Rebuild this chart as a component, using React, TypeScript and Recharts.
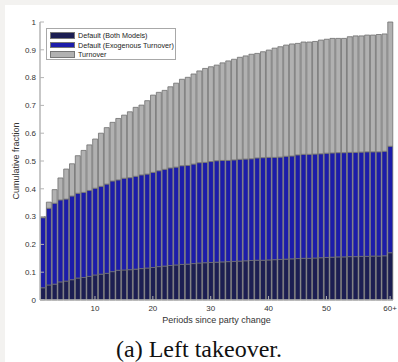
import React from 'react';
import { BarChart, Bar, XAxis, YAxis } from 'recharts';

// periods since party change: 1..60, then the pooled "60+" bucket
const periods = Array.from({ length: 60 }, (_, i) => String(i + 1)).concat('60+');

// cumulative fractions (top of each stacked segment)
const bothTop = [
  0.044, 0.054, 0.057, 0.065, 0.068, 0.073, 0.079, 0.081, 0.085, 0.090,
  0.093, 0.096, 0.102, 0.107, 0.108, 0.109, 0.111, 0.113, 0.115, 0.117,
  0.120, 0.122, 0.124, 0.126, 0.128, 0.129, 0.131, 0.133, 0.134, 0.135,
  0.136, 0.137, 0.138, 0.139, 0.140, 0.141, 0.142, 0.143, 0.143, 0.144,
  0.145, 0.146, 0.147, 0.148, 0.149, 0.150, 0.150, 0.151, 0.152, 0.153,
  0.154, 0.155, 0.155, 0.156, 0.156, 0.157, 0.157, 0.158, 0.158, 0.159,
  0.170,
];
const exoTop = [
  0.296, 0.330, 0.348, 0.360, 0.363, 0.374, 0.384, 0.387, 0.394, 0.402,
  0.409, 0.417, 0.428, 0.432, 0.438, 0.440, 0.445, 0.450, 0.453, 0.459,
  0.465, 0.470, 0.475, 0.478, 0.483, 0.484, 0.489, 0.494, 0.495, 0.498,
  0.501, 0.502, 0.502, 0.504, 0.506, 0.507, 0.508, 0.511, 0.512, 0.513,
  0.513, 0.514, 0.517, 0.518, 0.522, 0.524, 0.524, 0.525, 0.526, 0.528,
  0.529, 0.530, 0.530, 0.531, 0.531, 0.532, 0.533, 0.533, 0.533, 0.535,
  0.553,
];
const turnoverTop = [
  0.300, 0.352, 0.397, 0.439, 0.471, 0.490, 0.519, 0.538, 0.558, 0.579,
  0.600, 0.620, 0.639, 0.653, 0.665, 0.677, 0.693, 0.701, 0.717, 0.737,
  0.747, 0.754, 0.767, 0.780, 0.794, 0.801, 0.813, 0.824, 0.833, 0.839,
  0.845, 0.853, 0.860, 0.866, 0.873, 0.878, 0.884, 0.887, 0.893, 0.899,
  0.906, 0.911, 0.917, 0.921, 0.923, 0.928, 0.928, 0.930, 0.935, 0.938,
  0.941, 0.941, 0.941, 0.947, 0.950, 0.950, 0.953, 0.953, 0.955, 0.957,
  1.000,
];

const xTicks = ['10', '20', '30', '40', '50', '60+'];
const yTicks = [0, 0.1, 0.2, 0.3, 0.4, 0.5, 0.6, 0.7, 0.8, 0.9, 1];

const series = [
  { key: 'both', label: 'Default (Both Models)', color: '#1c1e52' },
  { key: 'exo', label: 'Default (Exogenous Turnover)', color: '#1c1caa' },
  { key: 'turnover', label: 'Turnover', color: '#b1b1b1' },
];

// stacked segments = differences between the cumulative tops
const data = periods.map((p, i) => ({
  period: p,
  both: bothTop[i],
  exo: exoTop[i] - bothTop[i],
  turnover: turnoverTop[i] - exoTop[i],
}));

const FONT = '"Liberation Sans", Arial, sans-serif';
const AXIS = '#b4b4b4';
const TICK_TEXT = { fontSize: 8, fill: '#333', fontFamily: FONT };

function Empty() {
  return <g />;
}

export default function App() {
  return (
    <div style={{ position: 'fixed', left: 0, top: 0, width: 398, height: 362, background: '#f3f2f0', overflow: 'hidden' }}>
      <div style={{ position: 'absolute', left: 5, top: 5, right: 0, bottom: 0, background: '#fff' }} />

      <div style={{ position: 'absolute', left: 0, top: 0 }}>
        <BarChart
          width={398}
          height={335}
          data={data}
          margin={{ top: 22, right: 5, left: 10, bottom: 5 }}
          barCategoryGap="10%"
        >
          <XAxis
            dataKey="period"
            ticks={xTicks}
            interval={0}
            height={30}
            tickSize={-4}
            tickMargin={9}
            tick={TICK_TEXT}
            stroke={AXIS}
            axisLine={{ stroke: AXIS, strokeWidth: 1.5 }}
            label={{ value: 'Periods since party change', position: 'insideBottom', offset: 7, style: { fontSize: 9, fill: '#333', fontFamily: FONT } }}
          />
          <XAxis
            xAxisId="top"
            orientation="top"
            dataKey="period"
            ticks={xTicks}
            interval={0}
            height={0}
            tickSize={-4}
            tick={<Empty />}
            stroke={AXIS}
            axisLine={{ stroke: AXIS, strokeWidth: 1.5 }}
          />
          <YAxis
            domain={[0, 1]}
            ticks={yTicks}
            width={30}
            tickSize={-4}
            tickMargin={8}
            tick={TICK_TEXT}
            stroke={AXIS}
            axisLine={{ stroke: AXIS, strokeWidth: 1.5 }}
            label={{ value: 'Cumulative fraction', angle: -90, position: 'insideLeft', offset: 6, style: { textAnchor: 'middle', fontSize: 9, fill: '#333', fontFamily: FONT } }}
          />
          <YAxis
            yAxisId="right"
            orientation="right"
            domain={[0, 1]}
            ticks={yTicks}
            width={0}
            tickSize={-4}
            tick={<Empty />}
            stroke={AXIS}
            axisLine={{ stroke: AXIS, strokeWidth: 1.5 }}
          />
          {series.map((s) => (
            <Bar
              key={s.key}
              dataKey={s.key}
              stackId="a"
              fill={s.color}
              stroke="#6f6f6f"
              strokeWidth={0.8}
              isAnimationActive={false}
            />
          ))}
        </BarChart>
      </div>

      {/* legend */}
      <div
        style={{
          position: 'absolute',
          left: 46,
          top: 28,
          width: 130,
          height: 32,
          boxSizing: 'border-box',
          border: '1px solid #a8a8a8',
          background: '#fff',
          padding: '2px 0 0 3px',
          fontFamily: FONT,
          fontSize: 7.2,
          color: '#222',
          whiteSpace: 'nowrap',
        }}
      >
        {series.map((s) => (
          <div key={s.key} style={{ display: 'flex', alignItems: 'center', height: 9.4 }}>
            <div style={{ width: 25, height: 6.5, background: s.color, border: '0.8px solid #777', marginRight: 3, boxSizing: 'border-box', flex: 'none' }} />
            <span style={{ lineHeight: '9px' }}>{s.label}</span>
          </div>
        ))}
      </div>

      <div
        style={{
          position: 'absolute',
          left: 0,
          width: 398,
          top: 335,
          textAlign: 'center',
          fontFamily: '"Liberation Serif", "Times New Roman", serif',
          fontSize: 24,
          lineHeight: '28px',
          color: '#111',
        }}
      >
        (a) Left takeover.
      </div>
    </div>
  );
}
